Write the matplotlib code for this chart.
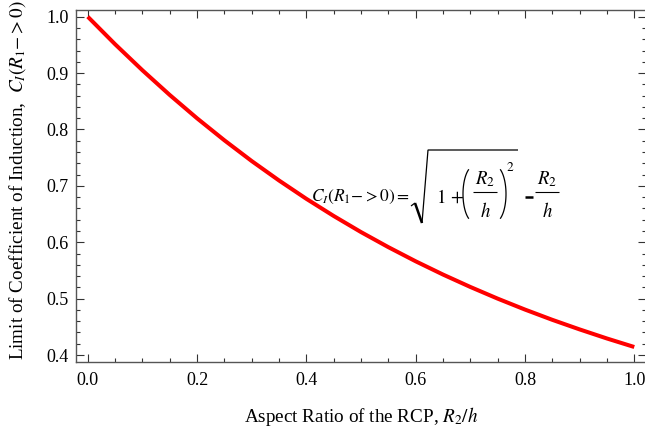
import numpy as np
import matplotlib
matplotlib.use("Agg")
import matplotlib.pyplot as plt
from matplotlib.lines import Line2D
from matplotlib.ticker import MultipleLocator, FormatStrFormatter

# aspect ratio R2/h and the limiting coefficient of induction C_I(R1->0)
aspect_ratio = [0.00, 0.05, 0.10, 0.15, 0.20, 0.25, 0.30, 0.35, 0.40, 0.45, 0.50,
                0.55, 0.60, 0.65, 0.70, 0.75, 0.80, 0.85, 0.90, 0.95, 1.00]
coeff_limit = [1.0000, 0.9512, 0.9050, 0.8612, 0.8198, 0.7808, 0.7440, 0.7095,
               0.6770, 0.6466, 0.6180, 0.5913, 0.5662, 0.5427, 0.5207, 0.5000,
               0.4806, 0.4624, 0.4454, 0.4293, 0.4142]

plt.rcParams['font.family'] = ['Liberation Serif', 'DejaVu Serif']
plt.rcParams['mathtext.fontset'] = 'stix'

W, H = 645, 434
fig = plt.figure(figsize=(W / 100, H / 100), dpi=100)
ax = fig.add_axes([0.1174, 0.1659, 1.002 - 0.1174, 0.977 - 0.1659])

ax.plot(aspect_ratio, coeff_limit, color='#ff0000', lw=2.9, solid_capstyle='butt')

ax.set_xlim(-0.022, 1.022)
ax.set_ylim(0.3876, 1.0119)

ax.xaxis.set_major_locator(MultipleLocator(0.2))
ax.xaxis.set_minor_locator(MultipleLocator(0.05))
ax.yaxis.set_major_locator(MultipleLocator(0.1))
ax.yaxis.set_minor_locator(MultipleLocator(0.02))
ax.xaxis.set_major_formatter(FormatStrFormatter('%.1f'))
ax.yaxis.set_major_formatter(FormatStrFormatter('%.1f'))

for s in ax.spines.values():
    s.set_color('#555555')
    s.set_linewidth(1.0)

ax.tick_params(which='both', direction='in', top=True, right=True, color='#333333', width=0.8)
ax.tick_params(which='major', length=5.5, labelsize=13)
ax.tick_params(which='minor', length=3)
ax.tick_params(axis='x', pad=7)
ax.tick_params(axis='y', pad=5)


# helpers working in pixels measured from the top-left corner
def fx(x):
    return x / W


def fy(y):
    return 1 - y / H


def ftext(x, y, s, size=13.5, ha='left'):
    fig.text(fx(x), fy(y), s, fontsize=size, ha=ha, va='baseline')


def fline(xs, ys, lw=0.9):
    fig.add_artist(Line2D([fx(v) for v in xs], [fy(v) for v in ys],
                          transform=fig.transFigure, color='black', lw=lw,
                          solid_joinstyle='miter', solid_capstyle='butt'))


def fparen(xc, yc, rx, ry, t1, t2):
    t = np.deg2rad(np.linspace(t1, t2, 30))
    fline(xc + rx * np.cos(t), yc - ry * np.sin(t), lw=0.9)


def fraction(xc, num, den):
    ftext(xc, 184, num, ha='center')
    fline([xc - 12, xc + 12], [192, 192], lw=0.8)
    ftext(xc, 217, den, ha='center')


# C_I(R1->0) = sqrt(1 + (R2/h)^2) - R2/h
ftext(410, 201, r'$C_I(R_1{-}{>}0){=}$', size=12.5, ha='right')
fline([411, 415], [206, 203], lw=0.9)
fline([415, 422], [203, 223], lw=1.8)
fline([422, 428, 518], [223, 150, 150], lw=0.9)
ftext(436, 203, r'$1\,+$')
fparen(474, 194, 11, 28, 118, 242)
fraction(485, r'$R_2$', r'$h$')
fparen(495, 194, 11, 28, -62, 62)
ftext(506, 171, r'$2$', size=9.5)
fline([525, 533], [197, 197], lw=1.8)
fraction(547, r'$R_2$', r'$h$')

fig.text(361 / W, 1 - 416 / H, r'Aspect Ratio of the RCP, $R_2/h$',
         fontsize=13.8, ha='center', va='center')
fig.text(18 / W, 1 - 360 / H,
         r'Limit of Coefficient of Induction,  $C_I(R_1{-}{>}0)$',
         fontsize=13.8, ha='center', va='bottom', rotation=90)

fig.savefig('out.png', dpi=100)
